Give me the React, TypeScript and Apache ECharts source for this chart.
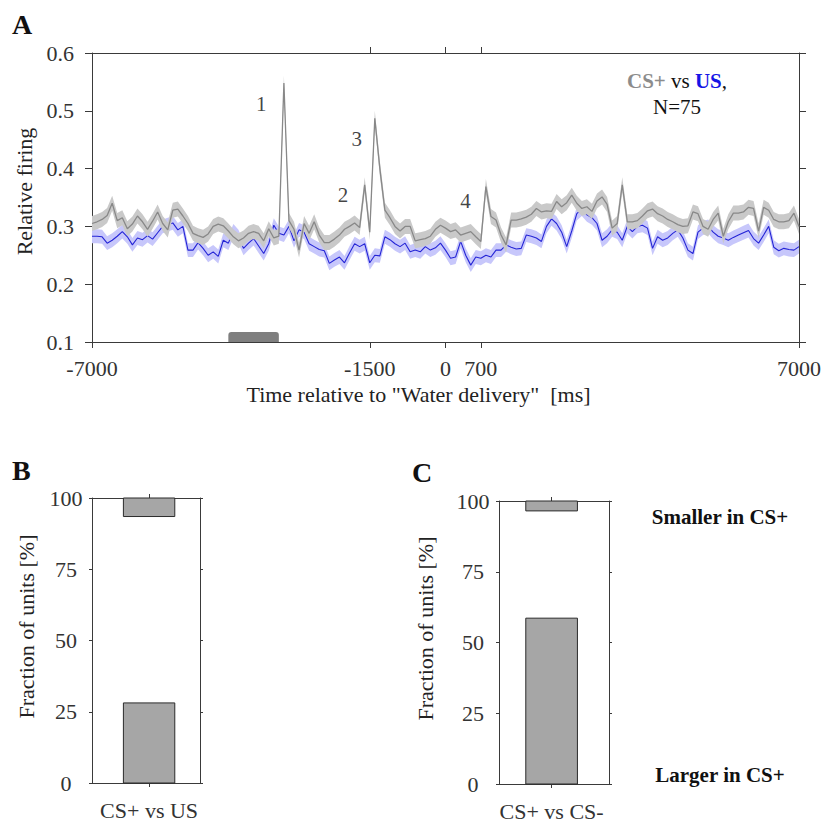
import React, { useEffect, useRef } from 'react';
import * as echarts from 'echarts';

// ---------- data ----------
const binStartMs = -7000;
const binWidthMs = 100;

// CS+ mean relative firing (grey), 100 ms bins from -7000 to 7000 ms
const csPlus = [
  0.305, 0.308, 0.312, 0.319, 0.340, 0.310, 0.315, 0.296, 0.304, 0.318,
  0.308, 0.295, 0.309, 0.325, 0.305, 0.294, 0.328, 0.330, 0.318, 0.305,
  0.288, 0.284, 0.281, 0.287, 0.300, 0.304, 0.301, 0.292, 0.282, 0.275,
  0.280, 0.288, 0.291, 0.288, 0.275, 0.296, 0.280, 0.283, 0.548, 0.310,
  0.295, 0.259, 0.305, 0.288, 0.308, 0.285, 0.272, 0.272, 0.278, 0.285,
  0.295, 0.300, 0.306, 0.298, 0.372, 0.290, 0.487, 0.400, 0.328, 0.315,
  0.300, 0.292, 0.300, 0.300, 0.275, 0.277, 0.279, 0.283, 0.295, 0.302,
  0.297, 0.291, 0.294, 0.285, 0.288, 0.291, 0.282, 0.274, 0.369, 0.317,
  0.311, 0.285, 0.268, 0.311, 0.311, 0.313, 0.316, 0.321, 0.331, 0.325,
  0.327, 0.326, 0.343, 0.334, 0.341, 0.354, 0.340, 0.331, 0.334, 0.326,
  0.344, 0.351, 0.338, 0.297, 0.305, 0.372, 0.308, 0.308, 0.310, 0.318,
  0.327, 0.330, 0.322, 0.318, 0.312, 0.308, 0.303, 0.300, 0.301, 0.325,
  0.322, 0.300, 0.295, 0.312, 0.323, 0.283, 0.308, 0.323, 0.323, 0.325,
  0.333, 0.331, 0.292, 0.333, 0.328, 0.312, 0.308, 0.308, 0.310, 0.323,
  0.300,
];

// US mean relative firing (blue)
const usValues = [
  0.283, 0.283, 0.282, 0.271, 0.276, 0.283, 0.291, 0.282, 0.268, 0.280,
  0.277, 0.284, 0.278, 0.289, 0.300, 0.303, 0.306, 0.294, 0.300, 0.259,
  0.259, 0.272, 0.262, 0.250, 0.256, 0.248, 0.276, 0.271, 0.292, 0.282,
  0.262, 0.271, 0.279, 0.266, 0.253, 0.270, 0.302, 0.288, 0.285, 0.300,
  0.275, 0.294, 0.290, 0.270, 0.265, 0.260, 0.258, 0.236, 0.242, 0.247,
  0.237, 0.254, 0.270, 0.265, 0.270, 0.237, 0.250, 0.249, 0.282, 0.277,
  0.270, 0.265, 0.271, 0.256, 0.259, 0.256, 0.265, 0.259, 0.263, 0.271,
  0.259, 0.245, 0.247, 0.274, 0.250, 0.233, 0.247, 0.245, 0.250, 0.247,
  0.259, 0.259, 0.268, 0.264, 0.261, 0.262, 0.285, 0.283, 0.280, 0.274,
  0.300, 0.313, 0.305, 0.290, 0.265, 0.292, 0.322, 0.330, 0.320, 0.315,
  0.305, 0.276, 0.283, 0.294, 0.290, 0.276, 0.300, 0.291, 0.300, 0.302,
  0.297, 0.262, 0.282, 0.276, 0.280, 0.288, 0.294, 0.280, 0.259, 0.253,
  0.290, 0.297, 0.300, 0.290, 0.283, 0.280, 0.276, 0.281, 0.285, 0.289,
  0.293, 0.279, 0.271, 0.285, 0.300, 0.264, 0.258, 0.262, 0.260, 0.259,
  0.265,
];

const csSem = 0.013;
const usSem = 0.012;

const xTickValues = [-7000, -1500, 0, 700, 7000];
const xTopTickValues = [-1500, 0, 700];

const peakLabels = ['1', '2', '3', '4'];
const peakLabelTimes = [-3650, -2030, -1755, 395];
const peakLabelValues = [0.512, 0.354, 0.451, 0.344];

const stimWindow = [-4300, -3300];

const barCategories = ['CS+ vs US', 'CS+ vs CS-'];
const largerInCS = [28.1, 58.6];
const smallerInCS = [6.5, 3.5];

// ---------- styling ----------
const FONT = '"Liberation Serif", "Times New Roman", serif';
const AXIS_COLOR = '#3a3a3a';
const LABEL_COLOR = '#333333';
const TICK_FS = 22;
const NAME_FS = 22;

const times = csPlus.map((_, i) => binStartMs + i * binWidthMs);

function bandSeries(values: number[], sem: number, color: string, z: number) {
  return {
    type: 'custom',
    xAxisIndex: 0,
    yAxisIndex: 0,
    z,
    silent: true,
    data: [[times[0], values[0]]],
    renderItem: (_params: any, api: any) => {
      const upper = values.map((v, i) => api.coord([times[i], v + sem]));
      const lower = values.map((v, i) => api.coord([times[i], v - sem])).reverse();
      return {
        type: 'polygon',
        shape: { points: upper.concat(lower) },
        style: { fill: color },
      };
    },
  };
}

function axisLineStyle() {
  return { show: true, onZero: false, lineStyle: { color: AXIS_COLOR, width: 1 } };
}

export default function App() {
  const ref = useRef<HTMLDivElement>(null);

  useEffect(() => {
    if (!ref.current) return;
    const chart = echarts.init(ref.current, undefined, { renderer: 'svg' });

    const barData = (idx: number) => [
      [1, 0, largerInCS[idx]],
      [1, 100 - smallerInCS[idx], 100],
    ];

    const barSeries = (idx: number) => ({
      type: 'custom',
      xAxisIndex: 2 + idx * 2,
      yAxisIndex: 2 + idx * 2,
      encode: { x: 0, y: [1, 2] },
      data: barData(idx),
      z: 3,
      renderItem: (_params: any, api: any) => {
        const halfW = 0.27;
        const p0 = api.coord([api.value(0) - halfW, api.value(2)]);
        const p1 = api.coord([api.value(0) + halfW, api.value(1)]);
        return {
          type: 'rect',
          shape: { x: p0[0], y: p0[1], width: p1[0] - p0[0], height: p1[1] - p0[1] },
          style: { fill: '#a6a6a6', stroke: '#2b2b2b', lineWidth: 1 },
        };
      },
    });

    const barXAxes = (idx: number, gridIndex: number, min: number, max: number) => [
      {
        type: 'value',
        gridIndex,
        position: 'bottom',
        min,
        max,
        axisLine: axisLineStyle(),
        axisTick: { show: true, customValues: [1], length: 4, lineStyle: { color: AXIS_COLOR } },
        axisLabel: {
          show: true,
          customValues: [1],
          formatter: () => barCategories[idx],
          fontFamily: FONT,
          fontSize: NAME_FS,
          color: LABEL_COLOR,
          margin: 16,
        },
        splitLine: { show: false },
      },
      {
        type: 'value',
        gridIndex,
        position: 'top',
        min,
        max,
        axisLine: axisLineStyle(),
        axisTick: { show: true, customValues: [1], length: 4, lineStyle: { color: AXIS_COLOR } },
        axisLabel: { show: false },
        splitLine: { show: false },
      },
    ];

    const barYAxes = (gridIndex: number, nameGap: number) => [
      {
        type: 'value',
        gridIndex,
        position: 'left',
        min: 0,
        max: 100,
        interval: 25,
        name: 'Fraction of units [%]',
        nameLocation: 'middle',
        nameGap,
        nameTextStyle: { fontFamily: FONT, fontSize: NAME_FS, color: '#222', padding: [0, 0, 0, 28] },
        axisLine: axisLineStyle(),
        axisTick: { show: true, length: 3, lineStyle: { color: AXIS_COLOR } },
        axisLabel: { fontFamily: FONT, fontSize: TICK_FS, color: LABEL_COLOR, margin: 26, align: 'center' },
        splitLine: { show: false },
      },
      {
        type: 'value',
        gridIndex,
        position: 'right',
        min: 0,
        max: 100,
        interval: 25,
        axisLine: axisLineStyle(),
        axisTick: { show: true, length: 3, lineStyle: { color: AXIS_COLOR } },
        axisLabel: { show: false },
        splitLine: { show: false },
      },
    ];

    const option: any = {
      animation: false,
      backgroundColor: '#ffffff',
      textStyle: { fontFamily: FONT },
      grid: [
        { left: 92, top: 53, width: 710, height: 289 },
        { left: 92, top: 498, width: 108, height: 285 },
        { left: 499, top: 501, width: 110, height: 283 },
      ],
      xAxis: [
        {
          type: 'value',
          gridIndex: 0,
          position: 'bottom',
          min: -7000,
          max: 7000,
          name: 'Time relative to "Water delivery"  [ms]',
          nameLocation: 'middle',
          nameGap: 41,
          nameTextStyle: { fontFamily: FONT, fontSize: NAME_FS, color: '#222', padding: [0, 54, 0, 0] },
          axisLine: axisLineStyle(),
          axisTick: { show: true, customValues: xTickValues, length: 6, lineStyle: { color: AXIS_COLOR } },
          axisLabel: {
            show: true,
            customValues: xTickValues,
            formatter: (v: number) => String(v),
            fontFamily: FONT,
            fontSize: TICK_FS,
            color: LABEL_COLOR,
            margin: 15,
          },
          splitLine: { show: false },
        },
        {
          type: 'value',
          gridIndex: 0,
          position: 'top',
          min: -7000,
          max: 7000,
          axisLine: axisLineStyle(),
          axisTick: { show: true, customValues: xTopTickValues, length: 6, lineStyle: { color: AXIS_COLOR } },
          axisLabel: { show: false },
          splitLine: { show: false },
        },
        ...barXAxes(0, 1, 0.4, 1.535),
        ...barXAxes(1, 2, 0.45, 1.6),
      ],
      yAxis: [
        {
          type: 'value',
          gridIndex: 0,
          position: 'left',
          min: 0.1,
          max: 0.6,
          interval: 0.1,
          name: 'Relative firing',
          nameLocation: 'middle',
          nameGap: 55,
          nameTextStyle: { fontFamily: FONT, fontSize: NAME_FS, color: '#222', padding: [0, 0, 0, 12] },
          axisLine: axisLineStyle(),
          axisTick: { show: true, length: 7, lineStyle: { color: AXIS_COLOR } },
          axisLabel: {
            fontFamily: FONT,
            fontSize: TICK_FS,
            color: LABEL_COLOR,
            margin: 18,
            formatter: (v: number) => v.toFixed(1),
          },
          splitLine: { show: false },
        },
        {
          type: 'value',
          gridIndex: 0,
          position: 'right',
          min: 0.1,
          max: 0.6,
          interval: 0.1,
          axisLine: axisLineStyle(),
          axisTick: { show: true, length: 7, lineStyle: { color: AXIS_COLOR } },
          axisLabel: { show: false },
          splitLine: { show: false },
        },
        ...barYAxes(1, 55),
        ...barYAxes(2, 63),
      ],
      series: [
        bandSeries(usValues, usSem, '#c7c7fb', 1),
        {
          type: 'line',
          xAxisIndex: 0,
          yAxisIndex: 0,
          z: 2,
          symbol: 'none',
          data: times.map((t, i) => [t, usValues[i]]),
          lineStyle: { color: '#2424d6', width: 1.1 },
        },
        bandSeries(csPlus, csSem, '#c9c9c9', 3),
        {
          type: 'line',
          xAxisIndex: 0,
          yAxisIndex: 0,
          z: 4,
          symbol: 'none',
          data: times.map((t, i) => [t, csPlus[i]]),
          lineStyle: { color: '#888888', width: 1.3 },
        },
        {
          type: 'custom',
          xAxisIndex: 0,
          yAxisIndex: 0,
          z: 5,
          encode: { x: [0, 1] },
          data: [stimWindow],
          renderItem: (_params: any, api: any) => {
            const a = api.coord([api.value(0), 0.1]);
            const b = api.coord([api.value(1), 0.1]);
            return {
              type: 'rect',
              shape: { x: a[0], y: a[1] - 10, width: b[0] - a[0], height: 10, r: [3, 3, 0, 0] },
              style: { fill: '#7f7f7f' },
            };
          },
        },
        {
          type: 'scatter',
          xAxisIndex: 0,
          yAxisIndex: 0,
          z: 6,
          symbol: 'circle',
          symbolSize: 1,
          itemStyle: { color: 'rgba(0,0,0,0)' },
          data: peakLabels.map((l, i) => ({ name: l, value: [peakLabelTimes[i], peakLabelValues[i]] })),
          label: {
            show: true,
            position: 'inside',
            formatter: '{b}',
            fontFamily: FONT,
            fontSize: 21,
            color: '#111111',
          },
        },
        barSeries(0),
        barSeries(1),
      ],
      graphic: [
        {
          type: 'text',
          x: 12,
          y: 24,
          style: { text: 'A', font: `bold 28px ${FONT}`, fill: '#111', textVerticalAlign: 'middle' },
        },
        {
          type: 'text',
          x: 12,
          y: 470,
          style: { text: 'B', font: `bold 28px ${FONT}`, fill: '#111', textVerticalAlign: 'middle' },
        },
        {
          type: 'text',
          x: 412,
          y: 472,
          style: { text: 'C', font: `bold 28px ${FONT}`, fill: '#111', textVerticalAlign: 'middle' },
        },
        {
          type: 'text',
          x: 677,
          y: 81,
          style: {
            text: '{g|CS+}{k| vs }{b|US}{k|,}',
            textAlign: 'center',
            textVerticalAlign: 'middle',
            rich: {
              g: { fontFamily: FONT, fontSize: 21, fontWeight: 'bold', fill: '#8c8c8c', color: '#8c8c8c' },
              k: { fontFamily: FONT, fontSize: 21, fill: '#111', color: '#111' },
              b: { fontFamily: FONT, fontSize: 21, fontWeight: 'bold', fill: '#1515e6', color: '#1515e6' },
            },
          },
        },
        {
          type: 'text',
          x: 677,
          y: 107,
          style: { text: 'N=75', font: `21px ${FONT}`, fill: '#111', textAlign: 'center', textVerticalAlign: 'middle' },
        },
        {
          type: 'text',
          x: 720,
          y: 517,
          style: { text: 'Smaller in CS+', font: `bold 21px ${FONT}`, fill: '#111', textAlign: 'center', textVerticalAlign: 'middle' },
        },
        {
          type: 'text',
          x: 720,
          y: 775,
          style: { text: 'Larger in CS+', font: `bold 21px ${FONT}`, fill: '#111', textAlign: 'center', textVerticalAlign: 'middle' },
        },
      ],
    };

    chart.setOption(option);
    return () => chart.dispose();
  }, []);

  return (
    <div
      ref={ref}
      style={{ position: 'fixed', left: 0, top: 0, width: 824, height: 823, background: '#fff' }}
    />
  );
}
